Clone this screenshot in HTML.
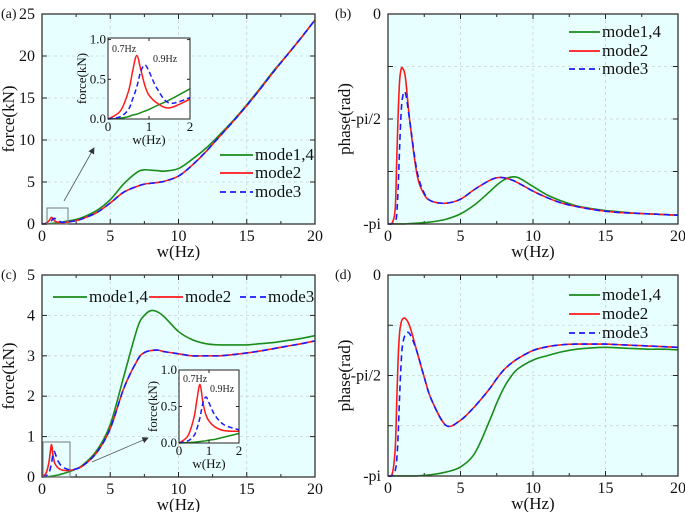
<!DOCTYPE html>
<html><head><meta charset="utf-8">
<style>
html,body{margin:0;padding:0;background:#fff;}
svg{display:block;}
svg text{font-family:"Liberation Serif","DejaVu Serif",serif;}
</style></head>
<body>
<svg id="chart" width="685" height="512" viewBox="0 0 685 512" xmlns="http://www.w3.org/2000/svg" font-family="Liberation Serif, serif"></svg>
<script>
const xs = [0,0.3,0.5,0.6,0.7,0.8,0.9,1.0,1.2,1.5,2,2.5,3,4,5,6,7,7.5,8,8.5,9,10,11,12,13,14,15,16,17,18,19,20];
const aGreen = [0,0.01,0.03,0.05,0.06,0.08,0.1,0.12,0.17,0.24,0.38,0.55,0.8,1.6,2.9,4.8,6.2,6.45,6.4,6.35,6.3,6.6,7.7,9.0,10.6,12.3,14.2,16.2,18.3,20.2,22.2,24.3];
const aRed = [0,0.1,0.35,0.6,0.8,0.62,0.42,0.3,0.2,0.14,0.25,0.4,0.65,1.35,2.5,3.8,4.5,4.75,4.85,4.95,5.1,5.7,7.0,8.6,10.4,12.2,14.1,16.1,18.2,20.2,22.2,24.3];
const aBlue = [0,0.03,0.12,0.25,0.4,0.6,0.68,0.6,0.38,0.2,0.27,0.4,0.65,1.35,2.5,3.8,4.5,4.75,4.85,4.95,5.1,5.7,7.0,8.6,10.4,12.2,14.1,16.1,18.2,20.2,22.2,24.3];
const cGreen = [0,0.005,0.01,0.015,0.02,0.025,0.03,0.04,0.05,0.08,0.13,0.2,0.3,0.65,1.3,2.5,3.7,4.0,4.12,4.08,3.95,3.6,3.4,3.3,3.27,3.27,3.27,3.3,3.33,3.38,3.43,3.5];
const cRed = [0,0.1,0.35,0.6,0.8,0.55,0.38,0.3,0.22,0.17,0.16,0.2,0.28,0.6,1.2,2.2,2.9,3.08,3.13,3.14,3.1,3.05,3.0,3.0,3.0,3.03,3.07,3.12,3.18,3.24,3.3,3.37];
const cBlue = [0,0.03,0.1,0.2,0.35,0.55,0.63,0.55,0.38,0.25,0.18,0.2,0.28,0.6,1.2,2.2,2.9,3.08,3.13,3.14,3.1,3.05,3.0,3.0,3.0,3.03,3.07,3.12,3.18,3.24,3.3,3.37];
const bRed = [-3.14,-3.12,-2.9,-2.2,-1.5,-1.0,-0.83,-0.81,-0.95,-1.6,-2.4,-2.7,-2.8,-2.83,-2.77,-2.62,-2.49,-2.45,-2.45,-2.48,-2.53,-2.65,-2.75,-2.83,-2.88,-2.92,-2.95,-2.97,-2.98,-2.99,-3.0,-3.01];
const bBlue = [-3.14,-3.14,-3.1,-3.0,-2.6,-2.0,-1.5,-1.25,-1.18,-1.6,-2.35,-2.68,-2.8,-2.83,-2.77,-2.62,-2.49,-2.45,-2.45,-2.48,-2.53,-2.65,-2.75,-2.83,-2.88,-2.92,-2.95,-2.97,-2.98,-2.99,-3.0,-3.01];
const bGreen = [-3.14,-3.14,-3.14,-3.14,-3.14,-3.14,-3.14,-3.14,-3.14,-3.135,-3.13,-3.12,-3.11,-3.07,-2.99,-2.85,-2.66,-2.56,-2.48,-2.44,-2.45,-2.58,-2.71,-2.8,-2.87,-2.91,-2.94,-2.96,-2.98,-2.99,-3.0,-3.01];
const dRed = [-3.14,-3.1,-2.7,-2.0,-1.3,-0.9,-0.75,-0.69,-0.68,-0.8,-1.2,-1.6,-1.95,-2.35,-2.27,-2.05,-1.78,-1.62,-1.48,-1.38,-1.3,-1.18,-1.12,-1.09,-1.08,-1.08,-1.08,-1.09,-1.1,-1.11,-1.12,-1.13];
const dBlue = [-3.14,-3.14,-3.05,-2.9,-2.5,-1.9,-1.4,-1.1,-0.93,-0.92,-1.2,-1.6,-1.95,-2.35,-2.27,-2.05,-1.78,-1.62,-1.48,-1.38,-1.3,-1.18,-1.12,-1.09,-1.08,-1.08,-1.08,-1.09,-1.1,-1.11,-1.12,-1.13];
const dGreen = [-3.14,-3.14,-3.14,-3.14,-3.14,-3.14,-3.14,-3.14,-3.14,-3.14,-3.14,-3.13,-3.12,-3.08,-3.0,-2.78,-2.28,-2.0,-1.76,-1.58,-1.46,-1.33,-1.26,-1.2,-1.16,-1.14,-1.13,-1.14,-1.15,-1.16,-1.16,-1.17];
const xTicks = [0,5,10,15,20];
const insetXTicks = [0,1,2];
const insetYTicks = [0,0.5,1.0];
const insetYLabels = ["0.0","0.5","1.0"];
const phaseTicks = [0,-Math.PI/4,-Math.PI/2,-3*Math.PI/4,-Math.PI];
const phaseLabels = ["0","","-pi/2","","-pi"];

const NS="http://www.w3.org/2000/svg";
const svg=document.getElementById('chart');
const FF='"Liberation Serif", "DejaVu Serif", serif';
function el(tag,attrs,parent,txt){const e=document.createElementNS(NS,tag);for(const k in attrs)e.setAttribute(k,attrs[k]);if(tag==='text')e.style.fontFamily=FF;if(txt!==undefined)e.textContent=txt;(parent||svg).appendChild(e);return e;}
const COL={g:"#1a8c1a",r:"#ff1a1a",b:"#1a1aff"};

function pathD(X,Y,sx,sy,xmax){
  const pts=[];for(let i=0;i<X.length;i++){if(X[i]<=xmax+1e-9)pts.push([sx(X[i]),sy(Y[i])]);}
  let d="M"+pts[0][0].toFixed(2)+","+pts[0][1].toFixed(2);
  for(let i=0;i<pts.length-1;i++){
    const p0=pts[Math.max(0,i-1)],p1=pts[i],p2=pts[i+1],p3=pts[Math.min(pts.length-1,i+2)];
    const c1=[p1[0]+(p2[0]-p0[0])/6,p1[1]+(p2[1]-p0[1])/6];
    const c2=[p2[0]-(p3[0]-p1[0])/6,p2[1]-(p3[1]-p1[1])/6];
    d+=" C"+c1[0].toFixed(2)+","+c1[1].toFixed(2)+" "+c2[0].toFixed(2)+","+c2[1].toFixed(2)+" "+p2[0].toFixed(2)+","+p2[1].toFixed(2);
  }
  return d;
}

function panel(o){
  const g=el('g',{});
  
  
  const sx=v=>o.L+(v-0)/20*(o.R-o.L);
  const sy=v=>o.B-(v-o.ymin)/(o.ymax-o.ymin)*(o.B-o.T);
  const bg=el('rect',{x:o.L,y:o.T,width:o.R-o.L,height:o.B-o.T,fill:"#e8ffff"},g);
  
  xTicks.forEach(t=>{if(t>0&&t<20){const l=el('line',{x1:sx(t),x2:sx(t),y1:o.T,y2:o.B,stroke:"#c8d4d4","stroke-width":0.8,"stroke-dasharray":"3,3"},g);}});
  o.yt.forEach(t=>{const y=sy(t);if(y>o.T+1&&y<o.B-1){const l=el('line',{x1:o.L,x2:o.R,y1:y,y2:y,stroke:"#c8d4d4","stroke-width":0.8,"stroke-dasharray":"3,3"},g);}});
  xTicks.forEach(t=>{const x=sx(t);
    el('line',{x1:x,x2:x,y1:o.B,y2:o.B-5,stroke:"#222","stroke-width":1},g);
    el('line',{x1:x,x2:x,y1:o.T,y2:o.T+5,stroke:"#222","stroke-width":1},g);
    const tl=el('text',{x:x,y:o.B+17,"font-size":16,"text-anchor":"middle",fill:"#111"},g,String(t));
    
  });
  for(let t=2.5;t<20;t+=5){const x=sx(t);el('line',{x1:x,x2:x,y1:o.B,y2:o.B-3,stroke:"#222"},g);el('line',{x1:x,x2:x,y1:o.T,y2:o.T+3,stroke:"#222"},g);}
  o.yt.forEach((t,i)=>{const y=sy(t);
    el('line',{x1:o.L,x2:o.L+5,y1:y,y2:y,stroke:"#222"},g);
    el('line',{x1:o.R,x2:o.R-5,y1:y,y2:y,stroke:"#222"},g);
    if(o.yl[i]!==""){const tl=el('text',{x:o.L-7,y:y+5,"font-size":16,"text-anchor":"end",fill:"#111"},g,o.yl[i]);
    }
  });
  o.series.forEach(s=>{
    const p=el('path',{d:pathD(xs,s.v,sx,sy,20),fill:"none",stroke:COL[s.c],"stroke-width":1.6,"stroke-dasharray":s.dash||"none"},g);
    
  });
  const fr=el('rect',{x:o.L,y:o.T,width:o.R-o.L,height:o.B-o.T,fill:"none",stroke:"#333","stroke-width":1.3},g);
  
  const xt=el('text',{x:(o.L+o.R)/2,y:o.B+33,"font-size":17,"text-anchor":"middle",fill:"#111"},g,"w(Hz)");
  
  const yt=el('text',{x:0,y:0,"font-size":17,"text-anchor":"middle",fill:"#111",transform:`translate(${o.ytx},${(o.T+o.B)/2}) rotate(-90)`},g,o.ytitle);
  
  const lb=el('text',{x:o.lbx,y:o.T+4,"font-size":14,fill:"#111"},g,"("+o.id+")");
  
  o.leg.forEach(e=>{
    const lg=el('g',{},g);
    el('line',{x1:e.x1,x2:e.x2,y1:e.y,y2:e.y,stroke:COL[e.c],"stroke-width":1.8,"stroke-dasharray":e.dash||"none"},lg);
    el('text',{x:e.x2+2,y:e.y+5,"font-size":17,fill:"#111"},lg,e.t);
  });
  return {sx,sy,g};
}

function inset(o){
  const g=el('g',{});
  const sx=v=>o.L+v/2*(o.R-o.L), sy=v=>o.B-v/o.ymax*(o.B-o.T);
  el('rect',{x:o.L,y:o.T,width:o.R-o.L,height:o.B-o.T,fill:"#fff"},g);
  o.series.forEach(s=>{const p=el('path',{d:pathD(xs,s.v,sx,sy,2),fill:"none",stroke:COL[s.c],"stroke-width":1.5,"stroke-dasharray":s.dash||"none"},g);
    });
  el('rect',{x:o.L,y:o.T,width:o.R-o.L,height:o.B-o.T,fill:"none",stroke:"#222","stroke-width":1},g);
  insetXTicks.forEach(t=>{const x=sx(t);el('line',{x1:x,x2:x,y1:o.B,y2:o.B-3,stroke:"#222"},g);el('line',{x1:x,x2:x,y1:o.T,y2:o.T+3,stroke:"#222"},g);
    el('text',{x:x,y:o.B+12,"font-size":13,"text-anchor":"middle",fill:"#111"},g,String(t));});
  insetYTicks.forEach((t,i)=>{const y=sy(t);el('line',{x1:o.L,x2:o.L+3,y1:y,y2:y,stroke:"#222"},g);el('line',{x1:o.R,x2:o.R-3,y1:y,y2:y,stroke:"#222"},g);
    el('text',{x:o.L-2,y:y+4,"font-size":13,"text-anchor":"end",fill:"#111"},g,insetYLabels[i]);});
  el('text',{x:(o.L+o.R)/2,y:o.B+25,"font-size":13,"text-anchor":"middle",fill:"#111"},g,"w(Hz)");
  el('text',{x:0,y:0,"font-size":13,"text-anchor":"middle",fill:"#111",transform:`translate(${o.L-22},${(o.T+o.B)/2}) rotate(-90)`},g,"force(kN)");
  el('text',{x:o.L+4,y:o.T+o.la,"font-size":10,fill:"#222"},g,"0.7Hz");
  el('text',{x:o.L+o.lbx,y:o.T+o.la+10,"font-size":10,fill:"#222"},g,"0.9Hz");
}

panel({id:"a",L:42,R:315,T:14,B:224,ymin:0,ymax:25,yt:[0,5,10,15,20,25],yl:["0","5","10","15","20","25"],ytitle:"force(kN)",ytx:14,lbx:1,
  series:[{v:aGreen,c:"g",name:"line-mode1-4"},{v:aRed,c:"r",name:"line-mode2"},{v:aBlue,c:"b",dash:"6,4",name:"line-mode3"}],
  leg:[{x1:220,x2:253,y:155,c:"g",t:"mode1,4"},{x1:220,x2:253,y:173,c:"r",t:"mode2"},{x1:220,x2:253,y:192,c:"b",dash:"6,4",t:"mode3"}]});
panel({id:"c",L:42,R:315,T:275,B:477,ymin:0,ymax:5,yt:[0,1,2,3,4,5],yl:["0","1","2","3","4","5"],ytitle:"force(kN)",ytx:14,lbx:1,
  series:[{v:cGreen,c:"g",name:"line-mode1-4"},{v:cRed,c:"r",name:"line-mode2"},{v:cBlue,c:"b",dash:"6,4",name:"line-mode3"}],
  leg:[{x1:53,x2:87,y:297,c:"g",t:"mode1,4"},{x1:149,x2:183,y:297,c:"r",t:"mode2"},{x1:240,x2:266,y:297,c:"b",dash:"6,4",t:"mode3"}]});
panel({id:"b",L:388,R:678,T:14,B:224,ymin:-Math.PI,ymax:0,yt:phaseTicks,yl:phaseLabels,ytitle:"phase(rad)",ytx:350,lbx:335,
  series:[{v:bGreen,c:"g",name:"line-mode1-4"},{v:bRed,c:"r",name:"line-mode2"},{v:bBlue,c:"b",dash:"6,4",name:"line-mode3"}],
  leg:[{x1:569,x2:600,y:32,c:"g",t:"mode1,4"},{x1:569,x2:600,y:51,c:"r",t:"mode2"},{x1:569,x2:600,y:69,c:"b",dash:"6,4",t:"mode3"}]});
panel({id:"d",L:388,R:678,T:275,B:476,ymin:-Math.PI,ymax:0,yt:phaseTicks,yl:phaseLabels,ytitle:"phase(rad)",ytx:350,lbx:335,
  series:[{v:dGreen,c:"g",name:"line-mode1-4"},{v:dRed,c:"r",name:"line-mode2"},{v:dBlue,c:"b",dash:"6,4",name:"line-mode3"}],
  leg:[{x1:569,x2:600,y:295,c:"g",t:"mode1,4"},{x1:569,x2:600,y:314,c:"r",t:"mode2"},{x1:569,x2:600,y:333,c:"b",dash:"6,4",t:"mode3"}]});

const zb1=el('rect',{x:47,y:208,width:21,height:16,fill:"none",stroke:"#777","stroke-width":1});

const zb2=el('rect',{x:43,y:442,width:27,height:35,fill:"none",stroke:"#777","stroke-width":1});

el('defs',{}).innerHTML='<marker id="ah" markerWidth="8" markerHeight="8" refX="7" refY="4" orient="auto"><path d="M0,0 L8,4 L0,8 z" fill="#333"/></marker>';
const ar1=el('line',{x1:64,y1:201,x2:94,y2:148,stroke:"#555","stroke-width":0.8,"marker-end":"url(#ah)"});

const ar2=el('line',{x1:92,y1:462,x2:148,y2:438,stroke:"#555","stroke-width":0.8,"marker-end":"url(#ah)"});


inset({id:"a",L:108,R:190,T:38,B:119,ymax:1.02,la:14,lbx:45,
  series:[{v:aGreen,c:"g",name:"inset-mode1-4"},{v:aRed,c:"r",name:"inset-mode2"},{v:aBlue,c:"b",dash:"5,3",name:"inset-mode3"}]});
inset({id:"c",L:179,R:239,T:370,B:443,ymax:1.0,la:12,lbx:31,
  series:[{v:cGreen,c:"g",name:"inset-mode1-4"},{v:cRed,c:"r",name:"inset-mode2"},{v:cBlue,c:"b",dash:"5,3",name:"inset-mode3"}]});
</script>
</body></html>
